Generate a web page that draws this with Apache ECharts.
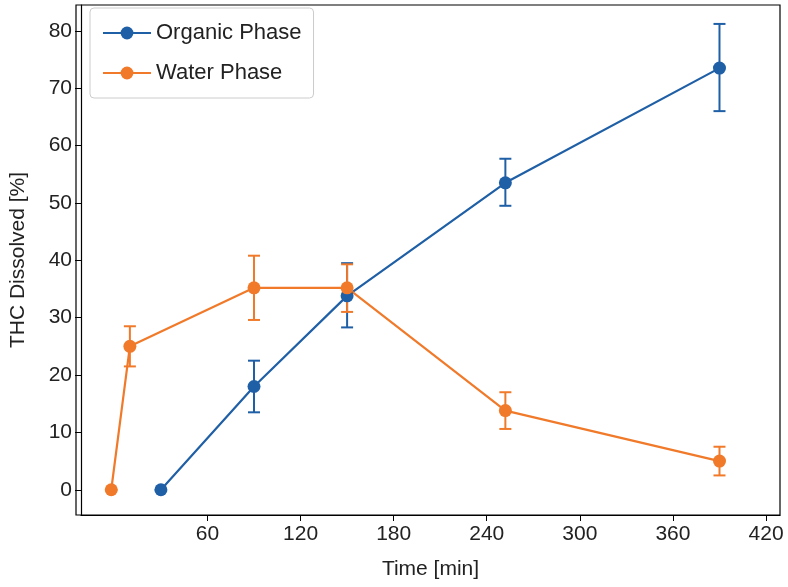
<!DOCTYPE html>
<html>
<head>
<meta charset="utf-8">
<script src="https://cdn.jsdelivr.net/npm/echarts@6/dist/echarts.min.js"></script>
<style>body{margin:0}#main{width:788px;height:587px}</style>
</head>
<body>
<div id="main"></div>
<script>
var xTicks = [60, 120, 180, 240, 300, 360, 420];
var yTicks = [0, 10, 20, 30, 40, 50, 60, 70, 80];
var orgTime = [30, 90, 150, 252, 390];
var orgVal = [0, 18, 33.8, 53.5, 73.5];
var orgLow = [0, 13.5, 28.3, 49.5, 66];
var orgHigh = [0, 22.5, 39.5, 57.7, 81.2];
var watTime = [-2, 10, 90, 150, 252, 390];
var watVal = [0, 25, 35.2, 35.2, 13.8, 5];
var watLow = [0, 21.5, 29.6, 31, 10.6, 2.5];
var watHigh = [0, 28.5, 40.8, 39.3, 17, 7.5];
var blue = '#1f5fa6', orange = '#f07a2a';

function pts(t, v) { return t.map(function (x, i) { return [x, v[i]]; }); }
function errs(t, lo, hi) { return t.map(function (x, i) { return [x, lo[i], hi[i]]; }); }
function errSeries(name, data, color) {
  return {
    name: name, type: 'custom', data: data, z: 3,
    renderItem: function (params, api) {
      var a = api.coord([api.value(0), api.value(1)]);
      var b = api.coord([api.value(0), api.value(2)]);
      var st = { stroke: color, lineWidth: 2 };
      return { type: 'group', children: [
        { type: 'line', shape: { x1: a[0], y1: a[1], x2: b[0], y2: b[1] }, style: st },
        { type: 'line', shape: { x1: a[0] - 6, y1: a[1], x2: a[0] + 6, y2: a[1] }, style: st },
        { type: 'line', shape: { x1: b[0] - 6, y1: b[1], x2: b[0] + 6, y2: b[1] }, style: st }
      ] };
    }
  };
}
var chart = echarts.init(document.getElementById('main'));
var font = { fontFamily: 'Liberation Sans', fontSize: 21, color: '#222' };
chart.setOption({
  animation: false,
  grid: { left: 76, right: 8, top: 5, bottom: 72 },
  legend: {
    left: 90, top: 8, orient: 'vertical', itemGap: 18, padding: [14, 12, 14, 12],
    borderColor: '#ccc', borderWidth: 1, borderRadius: 4,
    itemWidth: 48, itemHeight: 16,
    textStyle: { fontFamily: 'Liberation Sans', fontSize: 22, color: '#222' },
    data: ['Organic Phase', 'Water Phase']
  },
  xAxis: {
    type: 'value', min: -21.5, max: 429, name: 'Time [min]', nameLocation: 'middle', nameGap: 44,
    nameTextStyle: font,
    axisLine: { onZero: false, lineStyle: { color: '#000', width: 1.2 } },
    axisTick: { show: true, length: 6, lineStyle: { color: '#000' }, customValues: xTicks },
    axisLabel: Object.assign({ customValues: xTicks, margin: 9 }, font),
    splitLine: { show: false }
  },
  yAxis: {
    type: 'value', min: -4.4, max: 84.5, name: 'THC Dissolved [%]', nameLocation: 'middle', nameGap: 52,
    nameTextStyle: font,
    axisLine: { show: true, onZero: false, lineStyle: { color: '#000', width: 1.2 } },
    axisTick: { show: true, length: 6, lineStyle: { color: '#000' }, customValues: yTicks },
    axisLabel: Object.assign({ customValues: yTicks, margin: 9 }, font),
    splitLine: { show: false }
  },
  graphic: [{ type: 'rect', shape: { x: 76, y: 5, width: 704, height: 510 }, style: { fill: 'none', stroke: '#000', lineWidth: 1.2 }, silent: true }],
  series: [
    { name: 'Organic Phase', type: 'line', data: pts(orgTime, orgVal), color: blue,
      symbol: 'circle', symbolSize: 13, lineStyle: { width: 2.2 }, z: 4 },
    { name: 'Water Phase', type: 'line', data: pts(watTime, watVal), color: orange,
      symbol: 'circle', symbolSize: 13, lineStyle: { width: 2.2 }, z: 4 },
    errSeries('Organic Phase', errs(orgTime, orgLow, orgHigh), blue),
    errSeries('Water Phase', errs(watTime, watLow, watHigh), orange)
  ]
});
</script>
</body>
</html>
